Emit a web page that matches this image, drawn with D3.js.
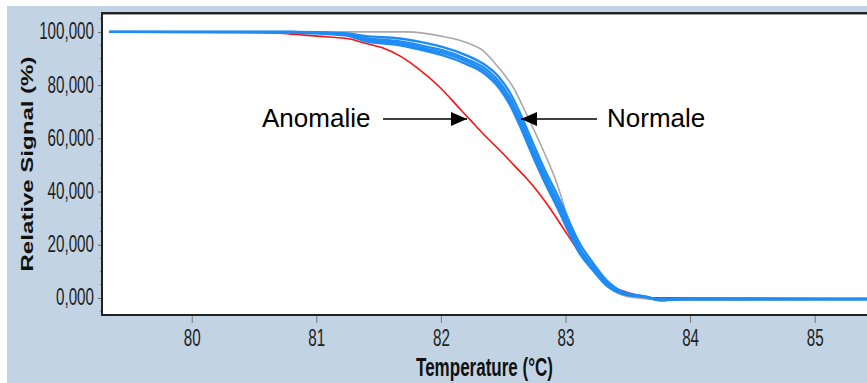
<!DOCTYPE html>
<html>
<head>
<meta charset="utf-8">
<script src="https://cdn.jsdelivr.net/npm/d3@7"></script>
<style>
  body { margin: 0; background: #fff; }
  svg { display: block; }
</style>
</head>
<body>
<script>
// x ticks and y ticks
const xTicks = [80, 81, 82, 83, 84, 85];
const yTicks = [0, 20, 40, 60, 80, 100];
const yTickLabels = ["0,000", "20,000", "40,000", "60,000", "80,000", "100,000"];
const yMinorTicks = [-5, 5, 10, 15, 25, 30, 35, 45, 50, 55, 65, 70, 75, 85, 90, 95, 105];

// normal samples (blue) share one temperature grid
const tempNormal = [79.34, 80.79, 81.23, 81.40, 81.67, 81.91, 82.01, 82.21, 82.34, 82.47, 82.55, 82.63, 82.74, 82.83, 82.93, 83.12, 83.22, 83.33, 83.46, 83.65, 83.76, 83.92, 85.42];
const normal1 = [100, 100, 99.5, 98.4, 97.5, 95.5, 94.4, 91.1, 88.0, 82.8, 77.5, 70.0, 58.1, 48.5, 39.2, 20.0, 13.2, 6.6, 2.3, 0.5, -0.6, -0.4, -0.4];
const normal2 = [100, 100, 99.2, 97.6, 96.4, 94.2, 93.1, 89.7, 86.7, 81.1, 75.6, 68.0, 56.0, 46.6, 37.2, 18.3, 11.9, 5.7, 2.0, 0.4, -0.8, -0.4, -0.4];
const normal3 = [100, 100, 99.0, 97.1, 95.7, 93.3, 92.2, 88.8, 85.6, 79.8, 74.1, 66.4, 54.4, 45.0, 35.6, 17.2, 11.1, 5.2, 1.8, 0.3, -0.8, -0.4, -0.4];
const normal4 = [100, 99.7, 98.7, 96.5, 95.0, 92.5, 91.3, 87.8, 84.6, 78.7, 72.9, 65.1, 53.1, 43.8, 34.4, 16.3, 10.4, 4.7, 1.5, 0.2, -0.9, -0.4, -0.4];

// grey normal sample
const tempGrey = [79.34, 81.73, 81.99, 82.21, 82.34, 82.47, 82.58, 82.69, 82.82, 82.93, 83.01, 83.09, 83.17, 83.25, 83.38, 83.54, 83.84, 85.42];
const grey = [100, 100, 98.5, 95.9, 92.9, 86.2, 79.2, 68.8, 55.6, 43.2, 31.5, 21.5, 14.3, 9.0, 3.0, 0.2, -0.8, -0.6];

// anomaly (red)
const tempAnomaly = [79.34, 80.51, 80.84, 81.08, 81.27, 81.37, 81.53, 81.67, 81.81, 81.99, 82.15, 82.23, 82.37, 82.47, 82.58, 82.69, 82.77, 82.85, 83.01, 83.11, 83.19, 83.26, 83.35, 83.48, 83.60, 83.68, 85.42];
const anomaly = [100, 100, 99.0, 98.2, 97.3, 96.0, 94.0, 91.0, 86.5, 79.3, 71.2, 67.2, 60.2, 55.6, 50.2, 44.8, 40.4, 35.4, 24.2, 17.2, 12.4, 8.6, 4.9, 2.3, 0.8, 0.1, -0.4];

const width = 867;
const height = 383;
const plot = { left: 102, right: 867, top: 13, bottom: 315 };

const x = d3.scaleLinear().domain([79.28, 85.42]).range([plot.left, plot.right]);
const y = d3.scaleLinear().domain([-6.4, 107.1]).range([plot.bottom, plot.top]);

const svg = d3.select("body").append("svg")
  .attr("width", width)
  .attr("height", height);

// blue-grey panel
svg.append("rect")
  .attr("x", 7).attr("y", 6)
  .attr("width", width - 7).attr("height", height - 6)
  .attr("fill", "#c2d4e4");

// white plotting area
svg.append("rect")
  .attr("x", plot.left).attr("y", plot.top)
  .attr("width", plot.right - plot.left).attr("height", plot.bottom - plot.top)
  .attr("fill", "#fff");

svg.append("clipPath").attr("id", "clip")
  .append("rect")
  .attr("x", plot.left + 1).attr("y", plot.top + 1)
  .attr("width", plot.right - plot.left).attr("height", plot.bottom - plot.top - 1);

const sans = "'Liberation Sans', Arial, sans-serif";
// tick labels in the original are tall and narrow: squeeze them horizontally
const squeeze = 0.66;

// y axis
const yAxis = svg.append("g")
  .attr("transform", `translate(${plot.left},0)`)
  .call(d3.axisLeft(y).tickValues(yTicks).tickFormat((d, i) => yTickLabels[i]).tickSize(4).tickPadding(4));
yAxis.select(".domain").remove();
yAxis.selectAll(".tick line").attr("stroke", "#666");
yAxis.selectAll(".tick text")
  .attr("font-family", sans)
  .attr("font-size", 23)
  .attr("fill", "#222")
  .attr("dy", "0.3em")
  .attr("lengthAdjust", "spacingAndGlyphs")
  .attr("textLength", function () { return this.getComputedTextLength() * squeeze; });

svg.append("g")
  .selectAll("line")
  .data(yMinorTicks)
  .join("line")
  .attr("x1", plot.left - 2).attr("x2", plot.left)
  .attr("y1", (d) => y(d)).attr("y2", (d) => y(d))
  .attr("stroke", "#777");

// x axis
const xAxis = svg.append("g")
  .attr("transform", `translate(0,${plot.bottom})`)
  .call(d3.axisBottom(x).tickValues(xTicks).tickFormat(d3.format("d")).tickSize(8).tickPadding(7));
xAxis.select(".domain").remove();
xAxis.selectAll(".tick line").attr("stroke", "#777");
xAxis.selectAll(".tick text")
  .attr("font-family", sans)
  .attr("font-size", 23)
  .attr("fill", "#222")
  .attr("lengthAdjust", "spacingAndGlyphs")
  .attr("textLength", function () { return this.getComputedTextLength() * squeeze; });

// curves
const line = d3.line()
  .x((d) => x(d[0]))
  .y((d) => y(d[1]))
  .curve(d3.curveMonotoneX);

const curves = svg.append("g").attr("clip-path", "url(#clip)");

function drawCurve(temps, values, color, w) {
  curves.append("path")
    .attr("d", line(temps.map((t, i) => [t, values[i]])))
    .attr("fill", "none")
    .attr("stroke", color)
    .attr("stroke-width", w);
}

drawCurve(tempGrey, grey, "#a9a9a9", 1.6);
drawCurve(tempAnomaly, anomaly, "#ff1010", 1.6);
[normal4, normal3, normal2, normal1].forEach((s) => drawCurve(tempNormal, s, "#1f8cf5", 2.4));

// frame lines
svg.append("line")
  .attr("x1", plot.left).attr("x2", plot.right)
  .attr("y1", plot.top + 1.5).attr("y2", plot.top + 1.5)
  .attr("stroke", "#999").attr("stroke-width", 1);
svg.append("line")
  .attr("x1", plot.left).attr("x2", plot.right)
  .attr("y1", plot.top).attr("y2", plot.top)
  .attr("stroke", "#222").attr("stroke-width", 2);
svg.append("line")
  .attr("x1", plot.left).attr("x2", plot.left)
  .attr("y1", plot.top - 1).attr("y2", plot.bottom + 1)
  .attr("stroke", "#222").attr("stroke-width", 2);
svg.append("line")
  .attr("x1", plot.left - 1).attr("x2", plot.right)
  .attr("y1", plot.bottom).attr("y2", plot.bottom)
  .attr("stroke", "#222").attr("stroke-width", 2);

// axis titles
svg.append("text")
  .attr("x", (plot.left + plot.right) / 2)
  .attr("y", 376)
  .attr("text-anchor", "middle")
  .attr("font-family", sans)
  .attr("font-weight", "bold")
  .attr("font-size", 25)
  .attr("fill", "#111")
  .attr("lengthAdjust", "spacingAndGlyphs")
  .attr("textLength", 137)
  .text("Temperature (°C)");

svg.append("text")
  .attr("transform", `translate(33,${(plot.top + plot.bottom) / 2}) rotate(-90)`)
  .attr("text-anchor", "middle")
  .attr("font-family", sans)
  .attr("font-weight", "bold")
  .attr("font-size", 17)
  .attr("fill", "#111")
  .attr("lengthAdjust", "spacingAndGlyphs")
  .attr("textLength", 215)
  .text("Relative Signal (%)");

// annotations
const defs = svg.append("defs");
defs.append("marker")
  .attr("id", "head")
  .attr("viewBox", "0 0 16 14")
  .attr("refX", 16).attr("refY", 7)
  .attr("markerWidth", 16).attr("markerHeight", 14)
  .attr("markerUnits", "userSpaceOnUse")
  .attr("orient", "auto")
  .append("path")
  .attr("d", "M0,0L16,7L0,14Z")
  .attr("fill", "#000");

svg.append("text")
  .attr("x", 262).attr("y", 127)
  .attr("font-family", sans)
  .attr("font-size", 26)
  .attr("fill", "#000")
  .text("Anomalie");
svg.append("line")
  .attr("x1", 383).attr("x2", 467)
  .attr("y1", 119).attr("y2", 119)
  .attr("stroke", "#000").attr("stroke-width", 1.5)
  .attr("marker-end", "url(#head)");

svg.append("text")
  .attr("x", 607).attr("y", 127)
  .attr("font-family", sans)
  .attr("font-size", 26)
  .attr("fill", "#000")
  .text("Normale");
svg.append("line")
  .attr("x1", 597).attr("x2", 521)
  .attr("y1", 119).attr("y2", 119)
  .attr("stroke", "#000").attr("stroke-width", 1.5)
  .attr("marker-end", "url(#head)");
</script>
</body>
</html>
